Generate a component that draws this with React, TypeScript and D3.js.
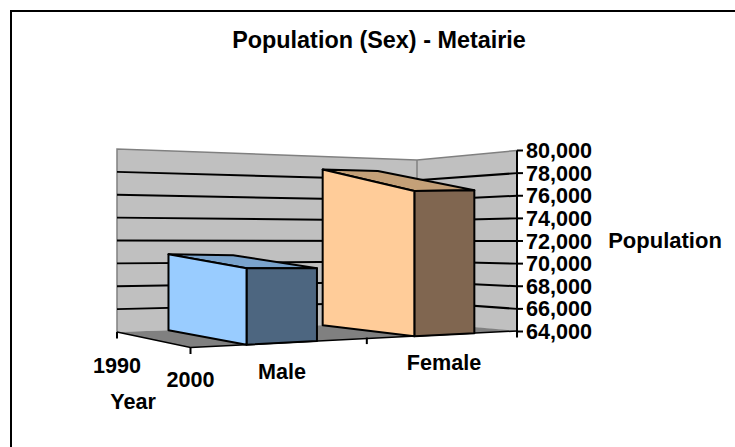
import React from "react";
import * as d3 from "d3";

const categories = ["Male", "Female"];
const years = ["1990", "2000"];
const populationValues = [70400, 76700];
const valueTicks = [64000, 66000, 68000, 70000, 72000, 74000, 76000, 78000, 80000];
const frontColors = ["#99ccff", "#ffcc99"];
const sideColors = ["#4d6680", "#806650"];
const topColors = ["#7aa3cc", "#c4a078"];

type P = [number, number];

// projection of the 3D box: floor corners (cat c, depth d)
const backLeft: P = [117, 332];
const frontLeft: P = [190.5, 347.5];
const frontRight: P = [517, 331];
const backRight: P = [417, 322];
const K = 1.174; // perspective along the category axis

const valueFrac = d3.scaleLinear().domain([64000, 80000]).range([0, 1]);
const persp = (t: number) => (t * K) / (1 + t * (K - 1));
const lerp = (a: number, b: number, t: number) => a + (b - a) * t;
const floorPt = (t: number, d: number): P => {
  const c = persp(t);
  const bx = lerp(backLeft[0], backRight[0], c);
  const by = lerp(backLeft[1], backRight[1], c);
  const fx = lerp(frontLeft[0], frontRight[0], c);
  const fy = lerp(frontLeft[1], frontRight[1], c);
  return [lerp(bx, fx, d), lerp(by, fy, d)];
};
// pixel height of the full value range, calibrated along the back and front of the floor
const backHeight = d3.scaleLinear().domain([0.17, 0.39, 0.685, 0.87]).range([190, 182, 196, 192]);
const frontHeight = d3.scaleLinear().domain([0.17, 0.39, 0.685, 0.87]).range([191, 182, 183, 180]);
const heightScale = (t: number, d: number) => {
  const c = persp(t);
  return lerp(backHeight(c), frontHeight(c), d);
};
const pt3 = (t: number, d: number, v: number): P => {
  const [x, y] = floorPt(t, d);
  return [x, y - valueFrac(v) * heightScale(t, d)];
};

const band = d3.scaleBand<string>().domain(categories).range([0, 1]).paddingInner(0.6).paddingOuter(0.3);
const depthBand: [number, number] = [0, 1];

const poly = d3.line<P>().curve(d3.curveLinearClosed);
const line = d3.line<P>();

// walls: three columns of the back walls
const wallLeftY = d3.scaleLinear().domain([64000, 80000]).range([332, 149]);
const wallCornerY = d3.scaleLinear().domain([64000, 80000]).range([322, 160]);
const wallRightY = d3.scaleLinear().domain([64000, 80000]).range([331.5, 150.5]);
const X0 = 117, X1 = 417, X2 = 517;

const textStyle: React.CSSProperties = {
  fontFamily: "'Liberation Sans', Arial, sans-serif",
  fontWeight: 700,
  fill: "#000",
};

export default function App() {
  const axisSize = 21.6;
  return (
    <svg width={735} height={447} style={{ position: "absolute", left: 0, top: 0, display: "block", background: "#fff" }}>
      {/* chart frame */}
      <path d="M11 447V11H735" fill="none" stroke="#000" strokeWidth={2} />

      {/* walls */}
      <path
        d={poly([[X0, wallLeftY(64000)], [X0, wallLeftY(80000)], [X1, wallCornerY(80000)], [X1, wallCornerY(64000)]])!}
        fill="#c0c0c0"
      />
      <path
        d={poly([[X1, wallCornerY(64000)], [X1, wallCornerY(80000)], [X2, wallRightY(80000)], [X2, wallRightY(64000)]])!}
        fill="#c0c0c0"
      />
      <path
        d={line([[X0, wallLeftY(64000)], [X0, wallLeftY(80000)], [X1, wallCornerY(80000)], [X2, wallRightY(80000)]])!}
        fill="none"
        stroke="#808080"
        strokeWidth={1.5}
      />
      <path d={line([[X1, wallCornerY(80000)], [X1, wallCornerY(64000)]])!} stroke="#808080" strokeWidth={1.5} />

      {/* floor */}
      <path d={poly([backLeft, frontLeft, frontRight, backRight])!} fill="#808080" />

      {/* gridlines */}
      {valueTicks.slice(1, -1).map((v) => (
        <path
          key={v}
          d={line([[X0, wallLeftY(v)], [X1, wallCornerY(v)], [X2, wallRightY(v)]])!}
          fill="none"
          stroke="#000"
          strokeWidth={2}
        />
      ))}

      {/* floor edges */}
      <path d={line([backLeft, frontLeft, frontRight])!} fill="none" stroke="#000" strokeWidth={1.5} />

      {/* value axis */}
      <path d={line([[X2, wallRightY(80000)], [X2, wallRightY(64000) + 6]])!} stroke="#000" strokeWidth={2} />
      {valueTicks.map((v) => (
        <g key={v}>
          <path d={line([[X2, wallRightY(v)], [X2 + 6, wallRightY(v)]])!} stroke="#000" strokeWidth={2} />
          <text x={526} y={wallRightY(v) + 7.5} fontSize={axisSize} style={textStyle}>
            {d3.format(",")(v)}
          </text>
        </g>
      ))}

      {/* year + category ticks */}
      {years.map((_, i) => {
        const p = floorPt(0, i);
        return <path key={i} d={line([p, [p[0], p[1] + 6.5]])!} stroke="#000" strokeWidth={2} />;
      })}
      {[0.5, 1].map((t) => {
        const p = floorPt(t, 1);
        return <path key={t} d={line([[p[0], p[1] - 1], [p[0], p[1] + 5.5]])!} stroke="#000" strokeWidth={2} />;
      })}

      {/* bars */}
      {categories.map((cat, i) => {
        const t0 = band(cat)!;
        const t1 = t0 + band.bandwidth();
        const [d0, d1] = depthBand;
        const v = populationValues[i];
        const base = 64000;
        return (
          <g key={cat} stroke="#000" strokeWidth={2} strokeLinejoin="round">
            <path
              d={poly([pt3(t0, d0, v), pt3(t1, d0, v), pt3(t1, d1, v), pt3(t0, d1, v)])!}
              fill={topColors[i]}
            />
            <path
              d={poly([pt3(t0, d1, v), pt3(t1, d1, v), pt3(t1, d1, base), pt3(t0, d1, base)])!}
              fill={sideColors[i]}
            />
            <path
              d={poly([pt3(t0, d0, v), pt3(t0, d1, v), pt3(t0, d1, base), pt3(t0, d0, base)])!}
              fill={frontColors[i]}
            />
          </g>
        );
      })}

      {/* titles and labels */}
      <text x={379} y={48} textAnchor="middle" fontSize={23.4} style={textStyle}>
        Population (Sex) - Metairie
      </text>
      <text x={665} y={248} textAnchor="middle" fontSize={22} style={textStyle}>
        Population
      </text>
      <text x={117} y={372.7} textAnchor="middle" fontSize={axisSize} style={textStyle}>
        {years[0]}
      </text>
      <text x={190.5} y={386.7} textAnchor="middle" fontSize={axisSize} style={textStyle}>
        {years[1]}
      </text>
      <text x={133} y={409} textAnchor="middle" fontSize={axisSize} style={textStyle}>
        Year
      </text>
      <text x={282} y={379} textAnchor="middle" fontSize={axisSize} style={textStyle}>
        {categories[0]}
      </text>
      <text x={444} y={370} textAnchor="middle" fontSize={axisSize} style={textStyle}>
        {categories[1]}
      </text>
    </svg>
  );
}
